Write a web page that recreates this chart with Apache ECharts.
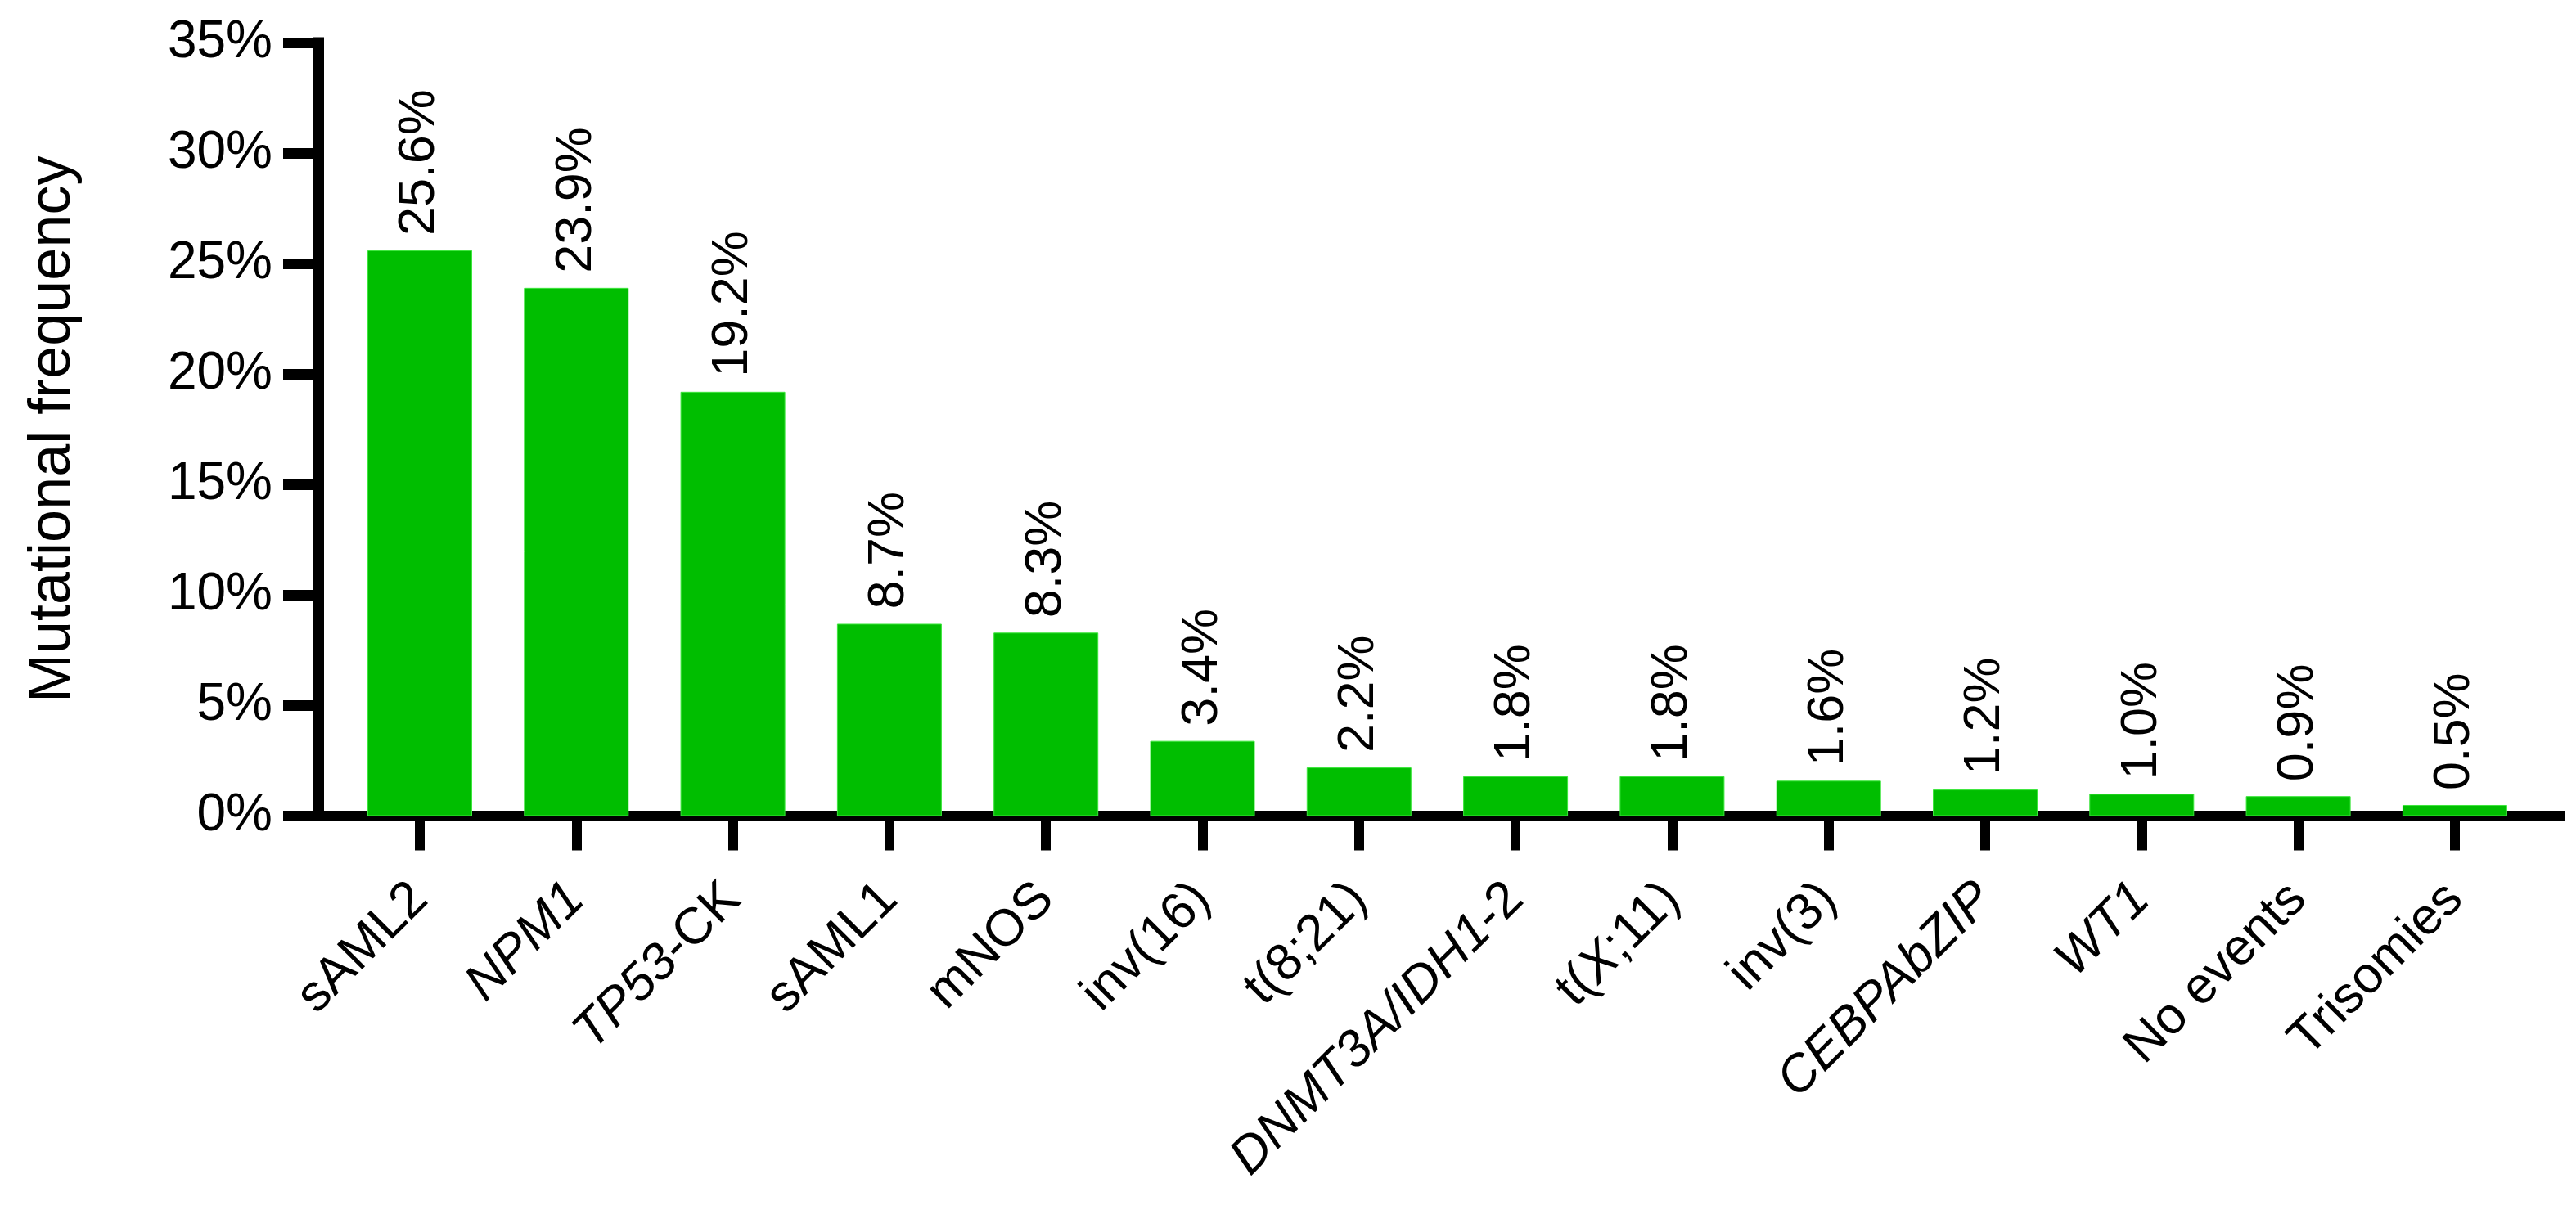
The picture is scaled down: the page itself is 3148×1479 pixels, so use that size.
<!DOCTYPE html>
<html>
<head>
<meta charset="utf-8">
<script src="https://cdn.jsdelivr.net/npm/echarts@6/dist/echarts.min.js"></script>
<style>
html,body{margin:0;padding:0;background:#fff;}
#chart{width:3148px;height:1479px;}
</style>
</head>
<body>
<div id="chart"></div>
<script>
// ---- data ----
const categories = ['sAML2','NPM1','TP53-CK','sAML1','mNOS','inv(16)','t(8;21)','DNMT3A/IDH1-2','t(X;11)','inv(3)','CEBPAbZIP','WT1','No events','Trisomies'];
const categoryLabels = ['sAML2','{it|NPM1}','{it|TP53}-CK','sAML1','mNOS','inv(16)','t(8;21)','{it|DNMT3A/IDH1}-2','t({it|X};11)','inv(3)','{it|CEBPAbZIP}','{it|WT1}','No events','Trisomies'];
const frequencies = [25.6, 23.9, 19.2, 8.7, 8.3, 3.4, 2.2, 1.8, 1.8, 1.6, 1.2, 1.0, 0.9, 0.5];
const yMin = 0, yMax = 35, yStep = 5;
const yTitle = 'Mutational frequency';

const FONT = "'Liberation Sans', Arial, Helvetica, sans-serif";
const chart = echarts.init(document.getElementById('chart'), null, {renderer:'canvas'});

chart.setOption({
  animation: false,
  backgroundColor: '#fff',
  grid: [
    {left: 417.35, right: 52.45, top: 52, bottom: 481.5},
    {left: 389, right: 19.5, top: 52, bottom: 481.5}
  ],
  xAxis: [
    {
      type: 'category', gridIndex: 0, data: categories,
      axisLine: {show: false},
      axisTick: {show: true, alignWithLabel: true, length: 42, lineStyle: {width: 12, color: '#000'}},
      axisLabel: {
        rotate: 45, margin: 92, fontSize: 63, fontFamily: FONT, color: '#000', interval: 0,
        formatter: (v, i) => categoryLabels[i],
        rich: {it: {fontStyle: 'italic', fontSize: 63, fontFamily: FONT, color: '#000'}}
      },
      splitLine: {show: false}
    },
    {
      type: 'value', gridIndex: 1, min: 0, max: 1,
      axisLine: {show: true, lineStyle: {width: 13, color: '#000', cap: 'square'}},
      axisTick: {show: false}, axisLabel: {show: false}, splitLine: {show: false}
    }
  ],
  yAxis: [
    {type: 'value', gridIndex: 0, min: yMin, max: yMax, show: false},
    {
      type: 'value', gridIndex: 1, min: yMin, max: yMax, interval: yStep,
      axisLine: {show: true, lineStyle: {width: 13, color: '#000', cap: 'square'}},
      axisTick: {show: true, length: 43, lineStyle: {width: 13, color: '#000'}},
      axisLabel: {formatter: '{value}%', fontSize: 64, fontFamily: FONT, color: '#000', margin: 56},
      splitLine: {show: false},
      name: yTitle, nameLocation: 'middle', nameGap: 288, nameRotate: 90,
      nameTextStyle: {fontSize: 72, fontFamily: FONT, color: '#000'}
    }
  ],
  series: [{
    type: 'bar', xAxisIndex: 0, yAxisIndex: 0,
    data: frequencies, barWidth: 128,
    itemStyle: {color: '#00BE00', borderColor: '#3CE63C', borderWidth: 1},
    label: {
      show: true, position: 'top', rotate: 90, align: 'left', verticalAlign: 'middle',
      distance: 18, fontSize: 63, fontFamily: FONT, color: '#000',
      formatter: p => p.value.toFixed(1) + '%'
    },
    z: 1
  }]
});
</script>
</body>
</html>
